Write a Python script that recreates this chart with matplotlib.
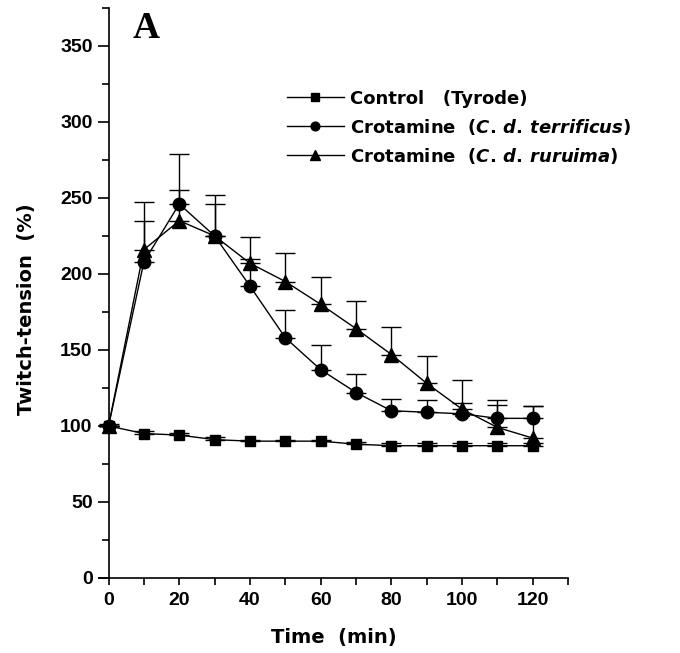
import matplotlib
matplotlib.use("Agg")
import matplotlib.pyplot as plt
import numpy as np
from matplotlib.ticker import MultipleLocator

plt.rcParams["font.family"] = ["Liberation Sans", "DejaVu Sans"]
plt.rcParams["font.weight"] = "bold"
plt.rcParams["mathtext.fontset"] = "custom"
plt.rcParams["mathtext.it"] = "DejaVu Sans:italic:bold"
plt.rcParams["mathtext.rm"] = "DejaVu Sans:bold"

time_min = [0, 10, 20, 30, 40, 50, 60, 70, 80, 90, 100, 110, 120]

control = [100, 95, 94, 91, 90, 90, 90, 88, 87, 87, 87, 87, 87]
control_err = [1, 1.5, 1.5, 1.5, 1, 1, 1, 1.5, 1.5, 1.5, 1.5, 1.5, 1.5]

terrificus = [100, 208, 246, 225, 192, 158, 137, 122, 110, 109, 108, 105, 105]
terrificus_err = [0, 27, 9, 21, 18, 18, 16, 12, 8, 8, 7, 9, 8]

ruruima = [100, 216, 235, 225, 207, 195, 180, 164, 147, 128, 111, 99, 92]
ruruima_err = [0, 31, 44, 27, 17, 19, 18, 18, 18, 18, 19, 18, 21]

series = [
    (control, control_err, "s", 7.5, "Control   (Tyrode)"),
    (terrificus, terrificus_err, "o", 9, r"Crotamine  ($\mathit{C.\,d.\,terrificus}$)"),
    (ruruima, ruruima_err, "^", 9.5, r"Crotamine  ($\mathit{C.\,d.\,ruruima}$)"),
]

# wider face for the letter-spaced labels of the original
WIDE = "DejaVu Sans"


def main() -> None:
    fig = plt.figure(figsize=(6.8, 6.53), dpi=100)
    ax = fig.add_axes([0.1456, 0.1149, 0.690, 0.873])

    t = np.array(time_min)
    for vals, err, marker, ms, label in series:
        yerr = [np.zeros(len(err)), np.array(err)]
        ax.errorbar(t, vals, yerr=yerr, fmt="none", ecolor="black",
                    elinewidth=1, capsize=7, capthick=1)
        ax.plot(t, vals, color="black", lw=1, marker=marker, ms=ms,
                markerfacecolor="black", markeredgecolor="black", label=label)

    ax.set_xlim(-2.7, 130)
    ax.set_ylim(0, 375)
    ax.spines["left"].set_position(("data", 0))
    ax.spines["top"].set_visible(False)
    ax.spines["right"].set_visible(False)
    ax.spines["left"].set_linewidth(1.2)
    ax.spines["bottom"].set_linewidth(1.2)

    ax.set_xticks(list(range(0, 121, 20)))
    ax.set_xticks(list(range(10, 131, 10)), minor=True)
    ax.set_yticks(list(range(0, 351, 50)))
    ax.yaxis.set_minor_locator(MultipleLocator(25))
    ax.tick_params(axis="y", which="major", direction="out", length=8, width=1.2, labelsize=14)
    ax.tick_params(axis="y", which="minor", direction="out", length=5, width=1.2)
    ax.tick_params(axis="x", which="major", direction="out", length=5, width=1.2, labelsize=14, pad=5)
    ax.tick_params(axis="x", which="minor", direction="out", length=5, width=1.2)

    ax.set_xlabel("Time  (min)", fontsize=14, fontweight="bold", family=WIDE, labelpad=14)
    ax.set_ylabel("Twitch-tension  (%)", fontsize=14, fontweight="bold", family=WIDE)
    ax.yaxis.set_label_coords(-0.135, 0.472)

    ax.legend(loc="upper left", bbox_to_anchor=(0.365, 0.885), frameon=False,
              prop={"family": WIDE, "weight": "bold", "size": 13},
              handlelength=3.2, handletextpad=0.3,
              labelspacing=0.5, numpoints=1, markerscale=0.7)

    fig.text(0.195, 0.957, "A", fontsize=27, fontweight="bold",
             family="Liberation Serif", ha="left", va="center")

    fig.savefig("out.png", dpi=100)
    plt.close(fig)


if __name__ == "__main__":
    main()
